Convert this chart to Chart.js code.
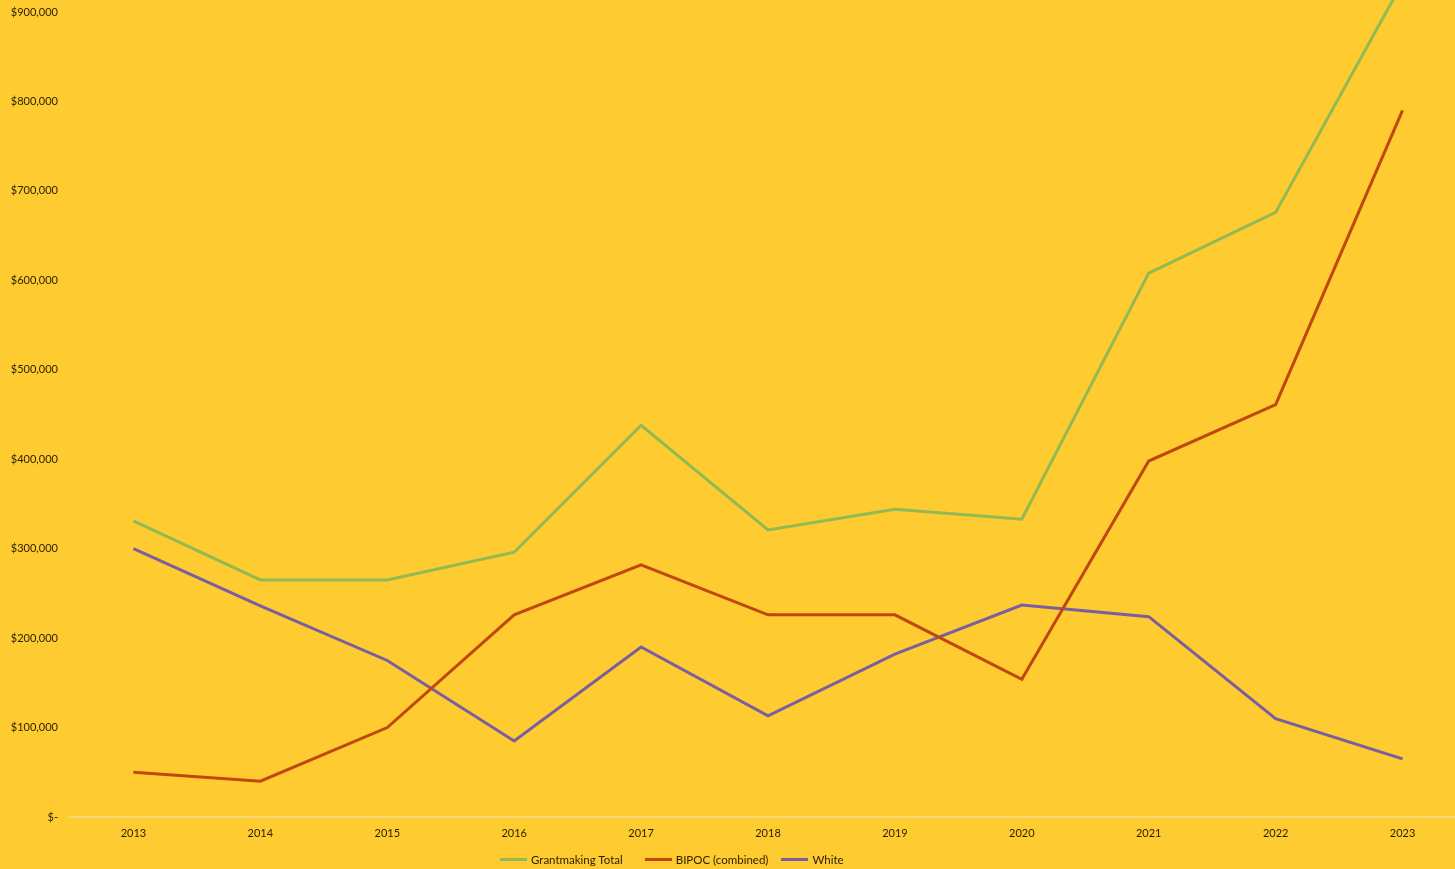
<!DOCTYPE html>
<html>
<head>
<meta charset="utf-8">
<script src="https://cdn.jsdelivr.net/npm/chart.js@4"></script>
<style>
    html, body { margin: 0; padding: 0; background: #FECB30; overflow: hidden; }
    #wrap { position: relative; width: 1466px; height: 869px; }
    #legend {
        position: absolute; top: 853px; left: 500px;
        display: flex; align-items: center;
        font-family: Lato, "Open Sans", sans-serif; font-size: 11.5px; color: #2a1f00;
    }
    .item { display: flex; align-items: center; }
    .swatch { width: 27px; height: 3px; margin-right: 4px; }
</style>
</head>
<body>
<div id="wrap">
    <canvas id="chart" width="1466" height="869"></canvas>
    <div id="legend"></div>
</div>
<script>
const years = ['2013', '2014', '2015', '2016', '2017', '2018', '2019', '2020', '2021', '2022', '2023'];
const grantmakingTotal = [331000, 265000, 265000, 296000, 438000, 321000, 344000, 333000, 608000, 676000, 933000];
const bipoc = [50000, 40000, 100000, 226000, 282000, 226000, 226000, 154000, 398000, 461000, 790000];
const white = [300000, 236000, 175000, 85000, 190000, 113000, 182000, 237000, 224000, 110000, 65000];

const labels = ['Grantmaking Total', 'BIPOC (combined)', 'White'];
const colors = ['#93B955', '#C0470E', '#7A5FA0'];

const textColor = '#2a1f00';
const font = { family: 'Lato, "Open Sans", sans-serif', size: 11 };

const series = [grantmakingTotal, bipoc, white];

const chart = new Chart(document.getElementById('chart').getContext('2d'), {
    type: 'line',
    data: {
        labels: years,
        datasets: series.map((d, i) => ({
            label: labels[i],
            data: d,
            borderColor: colors[i],
            backgroundColor: colors[i],
            borderWidth: 3,
            pointRadius: 0,
            tension: 0,
            clip: false
        }))
    },
    options: {
        responsive: false,
        animation: false,
        layout: { padding: 0 },
        plugins: {
            legend: { display: false },
            tooltip: { enabled: false }
        },
        scales: {
            x: {
                offset: true,
                grid: { display: false, drawTicks: false },
                border: { display: true, color: '#F6D875', width: 2 },
                ticks: { color: textColor, font: font, padding: 10, maxRotation: 0 },
                afterFit: s => { s.height = 52; }
            },
            y: {
                min: 0,
                max: 900000,
                grid: { display: false, drawTicks: false },
                border: { display: false },
                ticks: {
                    stepSize: 100000,
                    color: textColor,
                    font: font,
                    padding: 12,
                    callback: v => v === 0 ? '$-' : '$' + v.toLocaleString('en-US')
                },
                afterFit: s => { s.width = 70; s.paddingTop = 12; }
            }
        }
    }
});

// legend built from the datasets
const legend = document.getElementById('legend');
const gaps = [22, 13, 0];
labels.forEach((l, i) => {
    const item = document.createElement('div');
    item.className = 'item';
    item.style.marginRight = gaps[i] + 'px';
    item.innerHTML = `<span class="swatch" style="background:${colors[i]}"></span><span>${l}</span>`;
    legend.appendChild(item);
});
</script>
</body>
</html>
